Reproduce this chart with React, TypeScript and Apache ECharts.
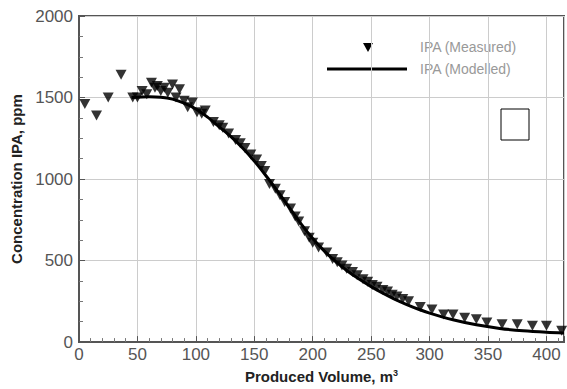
import React, { useEffect, useRef } from "react";
import * as echarts from "echarts";

const measuredX = [5, 15, 25, 36, 46, 50, 54, 58, 62, 65, 67, 70, 73, 76, 80, 83, 86, 90, 93, 97, 101, 105, 108, 115, 120, 123, 128, 134, 138, 142, 147, 152, 156, 159, 163, 168, 172, 176, 181, 185, 188, 193, 197, 200, 205, 212, 217, 221, 225, 229, 234, 238, 243, 247, 251, 255, 260, 264, 268, 272, 277, 282, 292, 302, 312, 320, 330, 340, 349, 362, 375, 388, 400, 413];
const measuredY = [1460, 1390, 1500, 1640, 1500, 1500, 1540, 1520, 1590, 1560, 1570, 1540, 1560, 1530, 1580, 1500, 1550, 1480, 1440, 1470, 1410, 1400, 1420, 1350, 1330, 1315, 1280, 1240, 1220, 1190, 1150, 1120, 1080, 1050, 970, 940, 900, 860, 820, 770, 740, 680, 640, 610, 580, 550, 510, 490, 470, 450, 430, 410, 385, 370, 350, 340, 320, 310, 290, 280, 265, 250, 215, 200, 170, 170, 150, 140, 120, 110, 110, 100, 100, 70];

const modelX = [45, 60, 70, 80, 90, 100, 110, 120, 130, 140, 150, 160, 170, 180, 190, 200, 210, 220, 230, 240, 250, 260, 270, 280, 290, 300, 320, 340, 360, 380, 400, 415];
const modelY = [1500, 1505, 1502, 1490, 1465, 1430, 1380, 1320, 1260, 1190, 1110, 1020, 925, 825, 725, 635, 558, 492, 435, 385, 340, 300, 264, 232, 203, 178, 137, 106, 84, 69, 60, 56];

const xTicks = [0, 50, 100, 150, 200, 250, 300, 350, 400];
const yTicks = [0, 500, 1000, 1500, 2000];

export default function App() {
  const ref = useRef<HTMLDivElement>(null);
  useEffect(() => {
    if (!ref.current) return;
    const chart = echarts.init(ref.current, null, { renderer: "svg" });
    const font = "Liberation Sans, Arial, sans-serif";
    chart.setOption({
      animation: false,
      backgroundColor: "#ffffff",
      grid: {
        left: 79,
        right: 3,
        top: 16,
        bottom: 41,
        show: true,
        borderColor: "#555555",
        borderWidth: 2,
      },
      xAxis: {
        type: "value",
        min: 0,
        max: 415,
        interval: 50,
        axisLine: { show: true, lineStyle: { color: "#555555", width: 2 } },
        axisTick: { show: true, inside: true, length: 6, lineStyle: { color: "#555555" } },
        minorTick: { show: true, splitNumber: 5, length: 4, lineStyle: { color: "#777777" } },
        splitLine: { show: true, lineStyle: { color: "#cccccc", width: 1 } },
        axisLabel: {
          color: "#555555",
          fontSize: 17,
          fontFamily: font,
          margin: 4,
          showMaxLabel: false,
          formatter: (v: number) => (xTicks.includes(v) ? String(v) : ""),
        },
        name: "Produced Volume, m{sup|3}",
        nameLocation: "middle",
        nameGap: 25,
        nameTextStyle: {
          color: "#222222",
          fontSize: 15,
          fontWeight: "bold",
          fontFamily: font,
          rich: { sup: { fontSize: 9, fontWeight: "bold", verticalAlign: "top", padding: [0, 0, 8, 0], color: "#222222" } },
        },
      },
      yAxis: {
        type: "value",
        min: 0,
        max: 2000,
        interval: 500,
        axisLine: { show: true, lineStyle: { color: "#555555", width: 2 } },
        axisTick: { show: true, inside: true, length: 6, lineStyle: { color: "#555555" } },
        minorTick: { show: true, splitNumber: 4, length: 4, lineStyle: { color: "#777777" } },
        splitLine: { show: true, lineStyle: { color: "#cccccc", width: 1 } },
        axisLabel: {
          color: "#555555",
          fontSize: 17,
          fontFamily: font,
          margin: 6,
          formatter: (v: number) => (yTicks.includes(v) ? String(v) : ""),
        },
        name: "Concentration IPA, ppm",
        nameLocation: "middle",
        nameGap: 48,
        nameTextStyle: {
          color: "#222222",
          fontSize: 15,
          fontWeight: "bold",
          fontFamily: font,
        },
      },
      series: [
        {
          name: "IPA (Modelled)",
          type: "line",
          data: modelX.map((x, i) => [x, modelY[i]]),
          showSymbol: false,
          smooth: 0.3,
          lineStyle: { color: "#000000", width: 3 },
          z: 2,
        },
        {
          name: "IPA (Measured)",
          type: "scatter",
          data: measuredX.map((x, i) => [x, measuredY[i]]),
          symbol: "triangle",
          symbolRotate: 180,
          symbolSize: [11, 10],
          itemStyle: { color: "#000000" },
          z: 3,
        },
      ],
      graphic: [
        {
          type: "polygon",
          shape: { points: [[363, 43], [373, 43], [368, 52]] },
          style: { fill: "#000000" },
        },
        {
          type: "line",
          shape: { x1: 327, y1: 69, x2: 407, y2: 69 },
          style: { stroke: "#000000", lineWidth: 3 },
        },
        {
          type: "text",
          x: 420,
          y: 47,
          style: { text: "IPA (Measured)", fill: "#999999", fontSize: 14, fontFamily: font, verticalAlign: "middle" },
        },
        {
          type: "text",
          x: 420,
          y: 69,
          style: { text: "IPA (Modelled)", fill: "#999999", fontSize: 14, fontFamily: font, verticalAlign: "middle" },
        },
        {
          type: "rect",
          shape: { x: 501, y: 109, width: 28, height: 31 },
          style: { fill: "#ffffff", stroke: "#000000", lineWidth: 1 },
        },
      ],
    });
    return () => chart.dispose();
  }, []);
  return <div ref={ref} style={{ width: 567, height: 389, position: "absolute", left: 0, top: 0 }} />;
}
